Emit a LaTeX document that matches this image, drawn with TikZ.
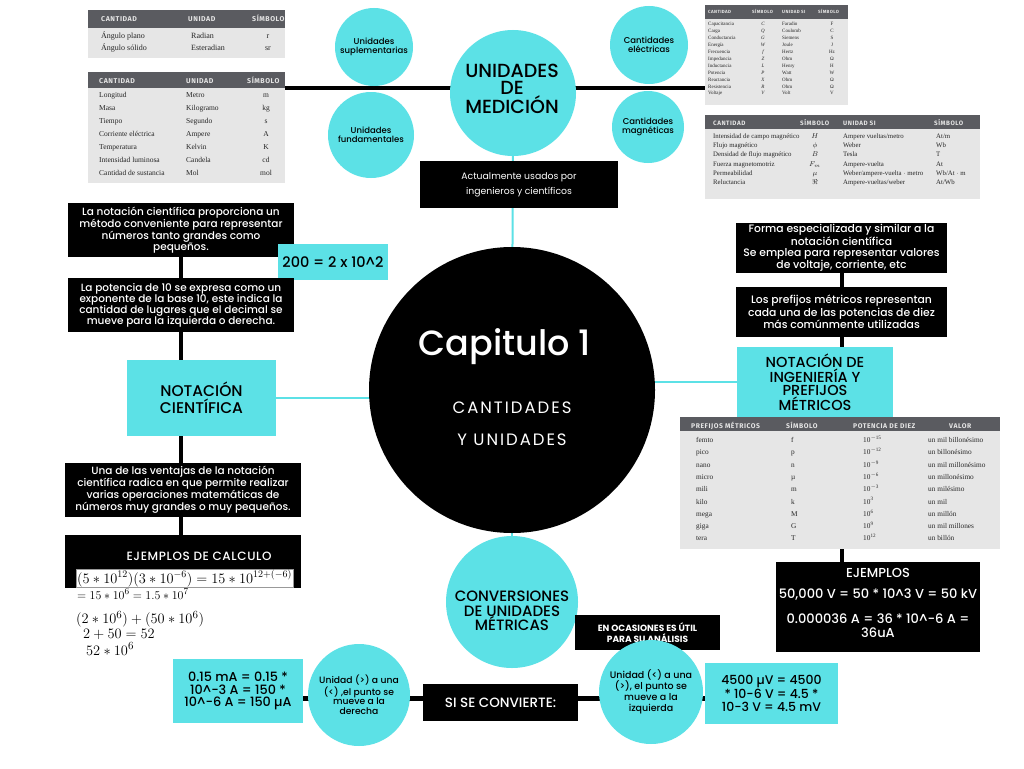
\documentclass[tikz,border=0pt]{standalone}
\usepackage{fontspec}
\setmainfont{Poppins Medium}[BoldFont=Poppins Bold]
\newfontfamily\lightfont{Poppins}
\newfontfamily\tabfont{Liberation Serif}
\newfontfamily\hdrfont[LetterSpace=8]{Fira Sans}
\usetikzlibrary{backgrounds}
\definecolor{cy}{HTML}{5CE1E6}
\definecolor{hdr}{HTML}{5A5B60}
\definecolor{tbody}{HTML}{E6E6E6}
\tikzset{
 blk/.style={fill=black, text=white, align=center, inner sep=0pt, font=\fontsize{10.5}{11}\selectfont},
 cybox/.style={fill=cy, text=black, align=center, inner sep=0pt},
 cyc/.style={circle, fill=cy, text=black, align=center, inner sep=0pt},
 bline/.style={line width=4.5pt, black},
 cline/.style={line width=2pt, cy},
 hrect/.style={fill=hdr, anchor=north west, inner sep=0pt},
 brect/.style={fill=tbody, anchor=north west, inner sep=0pt},
 th/.style={anchor=base west, text=white!90!black, inner sep=0pt},
 td/.style={anchor=base west, inner sep=0pt, text=black!85},
 tdc/.style={anchor=base, inner sep=0pt, text=black!85},
 lbl/.style={inner sep=0pt, align=center},
}
\begin{document}
\begin{tikzpicture}[x=1pt,y=-1pt]
\useasboundingbox (0,0) rectangle (1024,768);
\begin{pgfonlayer}{background}
\fill[white] (0,0) rectangle (1024,768);
\end{pgfonlayer}

% ---------- Table 1: suplementarias
\node[hrect, minimum width=197, minimum height=18] (t1h) at (88,10) {};
\node[brect, minimum width=197, minimum height=30] (t1b) at (88,28) {};
\begin{scope}[every node/.append style={font=\hdrfont\bfseries\fontsize{7}{7}\selectfont}]
\node[th] (t1c1) at (101,22) {CANTIDAD};
\node[th] (t1c2) at (188,22) {UNIDAD};
\node[th] (t1c3) at (252,22) {SÍMBOLO};
\end{scope}
\begin{scope}[every node/.append style={font=\tabfont\fontsize{8}{8}\selectfont}]
\node[td] (t1r1a) at (101,38) {Ángulo plano};
\node[td] (t1r1b) at (191,38) {Radian};
\node[tdc] (t1r1c) at (268,38) {r};
\node[td] (t1r2a) at (101,51) {Ángulo sólido};
\node[td] (t1r2b) at (191,51) {Esteradian};
\node[tdc] (t1r2c) at (268,51) {sr};
\end{scope}

% ---------- Table 2: fundamentales
\node[hrect, minimum width=197, minimum height=16] (t2h) at (88,72) {};
\node[brect, minimum width=197, minimum height=95] (t2b) at (88,88) {};
\begin{scope}[every node/.append style={font=\hdrfont\bfseries\fontsize{7}{7}\selectfont}]
\node[th] (t2c1) at (99,83) {CANTIDAD};
\node[th] (t2c2) at (186,83) {UNIDAD};
\node[th] (t2c3) at (247,83) {SÍMBOLO};
\end{scope}
\foreach \a/\b/\c [count=\i] in {Longitud/Metro/m, Masa/Kilogramo/kg, Tiempo/Segundo/s, Corriente eléctrica/Ampere/A, Temperatura/Kelvin/K, Intensidad luminosa/Candela/cd, Cantidad de sustancia/Mol/mol}{
 \node[td, font=\tabfont\fontsize{7.5}{8}\selectfont] (t2a\i) at (99,84+13*\i) {\a};
 \node[td, font=\tabfont\fontsize{7.5}{8}\selectfont] (t2b\i) at (186,84+13*\i) {\b};
 \node[tdc, font=\tabfont\fontsize{7.5}{8}\selectfont] (t2c\i) at (266,84+13*\i) {\c};
}

% ---------- Table 3: electricas
\node[hrect, minimum width=143, minimum height=14] (t3h) at (705,5) {};
\node[brect, minimum width=143, minimum height=86] (t3b) at (705,19) {};
\begin{scope}[every node/.append style={font=\hdrfont\bfseries\fontsize{4.5}{5}\selectfont}]
\node[th] (t3c1) at (708,14) {CANTIDAD};
\node[th] (t3c2) at (752,14) {SÍMBOLO};
\node[th] (t3c3) at (782,14) {UNIDAD SI};
\node[th] (t3c4) at (818,14) {SÍMBOLO};
\end{scope}
\foreach \a/\b/\c/\d [count=\i] in {Capacitancia/C/Faradio/F, Carga/Q/Coulomb/C, Conductancia/G/Siemens/S, Energía/W/Joule/J, Frecuencia/f/Hertz/Hz, Impedancia/Z/Ohm/Ω, Inductancia/L/Henry/H, Potencia/P/Watt/W, Reactancia/X/Ohm/Ω, Resistencia/R/Ohm/Ω, Voltaje/V/Volt/V}{
 \node[td, font=\tabfont\fontsize{5}{5}\selectfont] (t3a\i) at (708,19+6.9*\i) {\a};
 \node[tdc, font=\tabfont\itshape\fontsize{5}{5}\selectfont] (t3s\i) at (763,19+6.9*\i) {\b};
 \node[td, font=\tabfont\fontsize{5}{5}\selectfont] (t3u\i) at (782,19+6.9*\i) {\c};
 \node[tdc, font=\tabfont\fontsize{5}{5}\selectfont] (t3v\i) at (832,19+6.9*\i) {\d};
}

% ---------- Table 4: magneticas
\node[hrect, minimum width=275, minimum height=14] (t4h) at (705,115) {};
\node[brect, minimum width=275, minimum height=70] (t4b) at (705,129) {};
\begin{scope}[every node/.append style={font=\hdrfont\bfseries\fontsize{6.3}{6.5}\selectfont}]
\node[th] (t4c1) at (713,125) {CANTIDAD};
\node[th] (t4c2) at (800,125) {SÍMBOLO};
\node[th] (t4c3) at (843,125) {UNIDAD SI};
\node[th] (t4c4) at (934,125) {SÍMBOLO};
\end{scope}
\foreach \a/\b/\c/\d [count=\i] in {Intensidad de campo magnético/$H$/{Ampere vueltas/metro}/{At/m}, Flujo magnético/$\phi$/Weber/Wb, Densidad de flujo magnético/$B$/Tesla/T, Fuerza magnetomotriz/$F_m$/Ampere-vuelta/At, Permeabilidad/$\mu$/{Weber/ampere-vuelta $\cdot$ metro}/{Wb/At $\cdot$ m}, Reluctancia/$\Re$/{Ampere-vueltas/weber}/{At/Wb}}{
 \node[td, font=\tabfont\fontsize{6.8}{7}\selectfont] (t4a\i) at (713,129+9.3*\i) {\a};
 \node[tdc, font=\tabfont\fontsize{6.8}{7}\selectfont] (t4s\i) at (815,129+9.3*\i) {\b};
 \node[td, font=\tabfont\fontsize{6.8}{7}\selectfont] (t4u\i) at (843,129+9.3*\i) {\c};
 \node[td, font=\tabfont\fontsize{6.8}{7}\selectfont] (t4v\i) at (936,129+9.3*\i) {\d};
}

% ---------- Table 5: prefijos
\node[hrect, minimum width=320, minimum height=14] (t5h) at (680,417) {};
\node[brect, minimum width=320, minimum height=118] (t5b) at (680,431) {};
\begin{scope}[every node/.append style={font=\hdrfont\bfseries\fontsize{6.8}{7}\selectfont}]
\node[th] (t5c1) at (691,428) {PREFIJOS MÉTRICOS};
\node[th] (t5c2) at (786,428) {SÍMBOLO};
\node[th] (t5c3) at (853,428) {POTENCIA DE DIEZ};
\node[th] (t5c4) at (949,428) {VALOR};
\end{scope}
\foreach \a/\b/\c/\d [count=\i] in {femto/f/{$-$15}/un mil billonésimo, pico/p/{$-$12}/un billonésimo, nano/n/{$-$9}/un mil millonésimo, micro/µ/{$-$6}/un millonésimo, mili/m/{$-$3}/un milésimo, kilo/k/3/un mil, mega/M/6/un millón, giga/G/9/un mil millones, tera/T/12/un billón}{
 \node[td, font=\tabfont\fontsize{7.3}{7.5}\selectfont] (t5a\i) at (696,430.2+12.3*\i) {\a};
 \node[td, font=\tabfont\fontsize{7.3}{7.5}\selectfont] (t5s\i) at (791,430.2+12.3*\i) {\b};
 \node[td, font=\tabfont\fontsize{7.3}{7.5}\selectfont] (t5p\i) at (863,430.2+12.3*\i) {10\textsuperscript{\c}};
 \node[td, font=\tabfont\fontsize{7.3}{7.5}\selectfont] (t5v\i) at (928,430.2+12.3*\i) {\d};
}

% ---------- Top circles
\node[cyc, minimum size=126] (med) at (513,93) {};
\node[lbl, font=\fontsize{19}{17}\selectfont] (medt) at (512,89) {UNIDADES\\DE\\MEDICIÓN};
\node[cyc, minimum size=78, font=\fontsize{8.5}{8.5}\selectfont] (sup) at (374,47) {Unidades\\suplementarias};
\node[cyc, minimum size=86, font=\fontsize{8.5}{8.5}\selectfont] (fun) at (371,135) {Unidades\\fundamentales};
\node[cyc, minimum size=78, font=\fontsize{8.5}{8.5}\selectfont] (ele) at (649,45) {Cantidades\\eléctricas};
\node[cyc, minimum size=72, font=\fontsize{8.5}{8.5}\selectfont] (mag) at (648,127) {Cantidades\\magnéticas};
\node[blk, minimum width=198, minimum height=47, font=\lightfont\fontsize{9.3}{15}\selectfont] (act) at (519,184.5) {Actualmente usados por\\ingenieros y científicos};

% ---------- Center circle
\node[circle, fill=black, minimum size=286, inner sep=0pt] (cap) at (512,390) {};
\node[lbl, text=white, font=\fontsize{35}{35}\selectfont] (capt) at (505,347) {Capitulo 1};
\node[lbl, text=white, font=\lightfont\addfontfeature{LetterSpace=12}\fontsize{16.5}{32}\selectfont] (cant) at (512,424) {CANTIDADES\\Y UNIDADES};

% ---------- Left column
\node[blk, minimum width=226, minimum height=54] (b1) at (181,230) {La notación científica proporciona un\\método conveniente para representar\\números tanto grandes como\\pequeños.};
\node[cybox, minimum width=110, minimum height=36, font=\fontsize{14.5}{15}\selectfont] (ex1) at (333,262) {200 = 2 x 10\textasciicircum 2};
\node[blk, minimum width=226, minimum height=54] (b2) at (181,305) {La potencia de 10 se expresa como un\\exponente de la base 10, este indica la\\cantidad de lugares que el decimal se\\mueve para la izquierda o derecha.};
\node[cybox, minimum width=149, minimum height=76, font=\fontsize{15.5}{17}\selectfont] (nc) at (201.5,398) {NOTACIÓN\\CIENTÍFICA};
\node[blk, minimum width=236, minimum height=54] (b3) at (183,490) {Una de las ventajas de la notación\\científica radica en que permite realizar\\varias operaciones matemáticas de\\números muy grandes o muy pequeños.};
\node[blk, minimum width=236, minimum height=53] (b4) at (183,561.5) {};
\node[lbl, text=white, font=\addfontfeature{LetterSpace=5}\fontsize{12}{12}\selectfont] (b4t) at (199,556) {EJEMPLOS DE CALCULO};
\node[fill=white, draw=black!40, line width=0.4pt, inner sep=1pt, anchor=west, font=\fontsize{13.8}{14}\selectfont] (f1) at (76,578.5) {$(5\ast10^{12})(3\ast10^{-6})=15\ast10^{12+(-6)}$};
\node[inner sep=0pt, anchor=west, font=\fontsize{12.5}{13}\selectfont] (f2) at (77,594) {$=15\ast10^{6}=1.5\ast10^{7}$};
\node[inner sep=0pt, anchor=west, font=\fontsize{15.5}{15}\selectfont] (f3) at (76,619) {$(2\ast10^{6})+(50\ast10^{6})$};
\node[inner sep=0pt, anchor=west, font=\fontsize{15.5}{15}\selectfont] (f4) at (83,634) {$2+50=52$};
\node[inner sep=0pt, anchor=west, font=\fontsize{15.5}{15}\selectfont] (f5) at (86,649) {$52\ast10^{6}$};

% ---------- Right column
\node[blk, minimum width=211, minimum height=50, font=\fontsize{10.8}{11}\selectfont] (r1) at (841.5,248) {Forma especializada y similar a la\\notación científica\\Se emplea para representar valores\\de voltaje, corriente, etc};
\node[blk, minimum width=211, minimum height=50, font=\fontsize{10.8}{11}\selectfont] (r2) at (841.5,312) {Los prefijos métricos representan\\cada una de las potencias de diez\\más comúnmente utilizadas};
\node[cybox, minimum width=156, minimum height=70, font=\fontsize{14.5}{13.3}\selectfont] (ni) at (815,382) {NOTACIÓN DE\\INGENIERÍA Y\\PREFIJOS\\MÉTRICOS};
\node[blk, minimum width=204, minimum height=90] (ej) at (878,607) {};
\node[lbl, text=white, font=\fontsize{13}{14}\selectfont] (ejt) at (878,603) {EJEMPLOS\\[7pt]50,000 V = 50 * 10\textasciicircum 3 V = 50 kV\\[11pt]0.000036 A = 36 * 10\textasciicircum -6 A =\\36uA};

% ---------- Bottom
\node[cyc, minimum size=132] (conv) at (512,602) {};
\node[lbl, font=\fontsize{15}{14.5}\selectfont] (convt) at (512,611) {CONVERSIONES\\DE UNIDADES\\MÉTRICAS};
\node[blk, minimum width=145, minimum height=35, font=\bfseries\fontsize{9}{11.5}\selectfont] (en) at (647.5,632.5) {EN OCASIONES ES ÚTIL\\PARA SU ANÁLISIS};
\node[cybox, minimum width=130, minimum height=64, font=\fontsize{12.8}{12.5}\selectfont] (lr) at (238,691) {0.15 mA = 0.15 *\\10\^{}-3 A = 150 *\\10\^{}-6 A = 150 µA};
\node[cyc, minimum size=102, font=\fontsize{9.2}{9.7}\selectfont] (lc) at (359,695) {Unidad (>) a una\\(<) ,el punto se\\mueve a la\\derecha};
\node[blk, minimum width=155, minimum height=37, font=\fontsize{13.5}{13}\selectfont] (si) at (500.5,702.5) {SI SE CONVIERTE:};
\node[cyc, minimum size=104, font=\fontsize{9.5}{11}\selectfont] (rc) at (651,692) {Unidad (<) a una\\(>), el punto se\\mueve a la\\izquierda};
\node[cybox, minimum width=133, minimum height=61, font=\fontsize{12.5}{13.5}\selectfont] (rr) at (771.5,693.5) {4500 µV = 4500\\* 10-6 V = 4.5 *\\10-3 V = 4.5 mV};

% ---------- Connectors (behind)
\coordinate (hl) at (285,88);
\coordinate (hr) at (706,88);
\coordinate (bl) at (300,698);
\coordinate (br) at (708,698);
\begin{pgfonlayer}{background}
\draw[bline] (hl) -- (hr);
\draw[cline] (med.center) -- (cap.center);
\draw[cline] (nc.east) -- (nc.east -| cap.center);
\draw[cline] (ni.west) -- (ni.west -| cap.center);
\draw[cline] (cap.center) -- (conv.center);
\draw[line width=4pt] (b1.center) -- (b1.center |- b4.north);
\draw[line width=4pt] (r1.center) -- (r1.center |- ej.north);
\draw[line width=5pt] (bl) -- (br);
\end{pgfonlayer}
\end{tikzpicture}
\end{document}
